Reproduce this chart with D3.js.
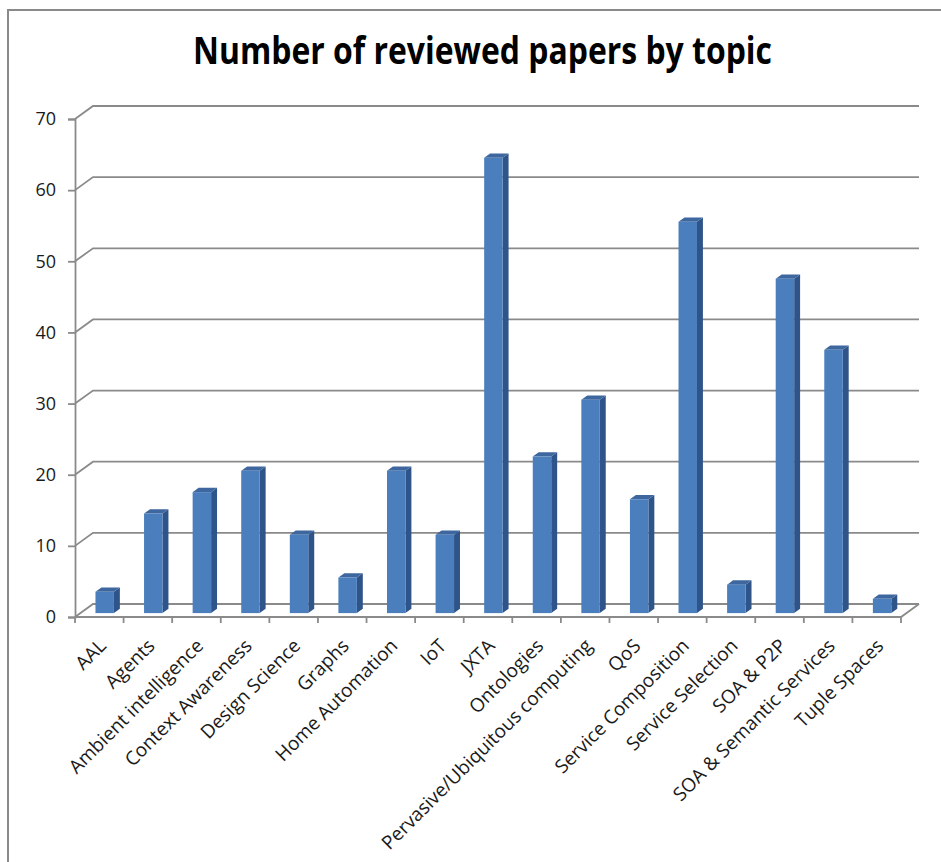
<!DOCTYPE html>
<html>
<head>
<meta charset="utf-8">
<script src="https://cdn.jsdelivr.net/npm/d3@7"></script>
<style>
  body { margin: 0; background: #fff; }
  text { font-family: "Open Sans", sans-serif; fill: #1a1a1a; }
</style>
</head>
<body>
<script>
var topics = ["AAL", "Agents", "Ambient intelligence", "Context Awareness", "Design Science",
              "Graphs", "Home Automation", "IoT", "JXTA", "Ontologies",
              "Pervasive/Ubiquitous computing", "QoS", "Service Composition", "Service Selection",
              "SOA & P2P", "SOA & Semantic Services", "Tuple Spaces"];
var papers = [3, 14, 17, 20, 11, 5, 20, 11, 64, 22, 30, 16, 55, 4, 47, 37, 2];
var yTicks = [0, 10, 20, 30, 40, 50, 60, 70];

var width = 941, height = 862;
var plotLeft = 75, plotRight = 901, plotBottom = 617, plotTop = 119;
// depth of the 3d floor
var dx = 18, dy = -13;

var svg = d3.select("body").append("svg")
    .attr("width", width)
    .attr("height", height);

svg.append("rect")
    .attr("x", 8).attr("y", 10)
    .attr("width", 960).attr("height", 880)
    .attr("fill", "#fff")
    .attr("stroke", "#8a8a8a")
    .attr("stroke-width", 2);

svg.append("text")
    .attr("x", 482.5)
    .attr("y", 64)
    .attr("text-anchor", "middle")
    .attr("textLength", 579)
    .attr("lengthAdjust", "spacingAndGlyphs")
    .style("font-size", "37px")
    .style("font-weight", "bold")
    .style("fill", "#000")
    .text("Number of reviewed papers by topic");

var x = d3.scaleBand()
    .domain(topics)
    .range([plotLeft, plotRight]);

var y = d3.scaleLinear()
    .domain([0, 70])
    .range([plotBottom, plotTop]);

var grid = "#8a8a8a";

// back wall gridlines with the little diagonal at the left
svg.append("g")
    .selectAll("path")
    .data(yTicks)
    .join("path")
    .attr("d", function(d) {
        var yy = y(d);
        return "M" + plotLeft + "," + yy + "L" + (plotLeft + dx) + "," + (yy + dy) + "L" + (plotRight + dx) + "," + (yy + dy);
    })
    .attr("fill", "none")
    .attr("stroke", grid)
    .attr("stroke-width", 1.8);

// floor front edge and right side
svg.append("path")
    .attr("d", "M" + plotLeft + "," + y(0) + "L" + plotRight + "," + y(0) + "L" + (plotRight + dx) + "," + (y(0) + dy))
    .attr("fill", "none")
    .attr("stroke", grid)
    .attr("stroke-width", 1.8);

// bars
var f0 = 0.3, fd = 0.33;
var bw = x.bandwidth() * 0.38;
var ox = dx * f0, oy = dy * f0, sx = dx * fd, sy = dy * fd;

var bars = svg.append("g")
    .selectAll("g")
    .data(topics)
    .join("g");

bars.each(function(t, i) {
    var g = d3.select(this);
    var x0 = x(t) + (x.bandwidth() - bw) / 2 + ox;
    var x1 = x0 + bw;
    var y0 = y(0) + oy;
    var y1 = y(papers[i]) + oy;
    // side face
    g.append("path")
        .attr("d", "M" + x1 + "," + y0 + "L" + (x1 + sx) + "," + (y0 + sy) + "L" + (x1 + sx) + "," + (y1 + sy) + "L" + x1 + "," + y1 + "Z")
        .attr("fill", "#2e5489");
    // top face
    g.append("path")
        .attr("d", "M" + x0 + "," + y1 + "L" + x1 + "," + y1 + "L" + (x1 + sx) + "," + (y1 + sy) + "L" + (x0 + sx) + "," + (y1 + sy) + "Z")
        .attr("fill", "#3d679e");
    // front face
    g.append("rect")
        .attr("x", x0)
        .attr("y", y1)
        .attr("width", bw)
        .attr("height", y0 - y1)
        .attr("fill", "#4a7ebd");
});

// y axis
var yAxis = d3.axisLeft(y)
    .tickValues(yTicks)
    .tickSize(7)
    .tickPadding(12);

var gy = svg.append("g")
    .attr("transform", "translate(" + plotLeft + ",0)")
    .call(yAxis);
gy.select(".domain").attr("stroke", grid).attr("stroke-width", 1.8);
gy.selectAll(".tick line").attr("stroke", grid).attr("stroke-width", 1.8);
gy.selectAll(".tick text")
    .style("font-size", "18px")
    .style("font-family", "'Open Sans', sans-serif")
    .attr("fill", "#1a1a1a");

// x ticks at the category boundaries
var bounds = topics.map(function(t) { return x(t); }).concat([plotRight]);
svg.append("g")
    .selectAll("line")
    .data(bounds)
    .join("line")
    .attr("x1", function(d) { return d; })
    .attr("x2", function(d) { return d; })
    .attr("y1", y(0))
    .attr("y2", y(0) + 6)
    .attr("stroke", grid)
    .attr("stroke-width", 1.8);

svg.append("g")
    .selectAll("text")
    .data(topics)
    .join("text")
    .attr("text-anchor", "end")
    .attr("transform", function(d) {
        return "translate(" + (x(d) + x.bandwidth() / 2 + 8) + "," + 647 + ") rotate(-45)";
    })
    .style("font-size", "19px")
    .text(function(d) { return d; });
</script>
</body>
</html>
